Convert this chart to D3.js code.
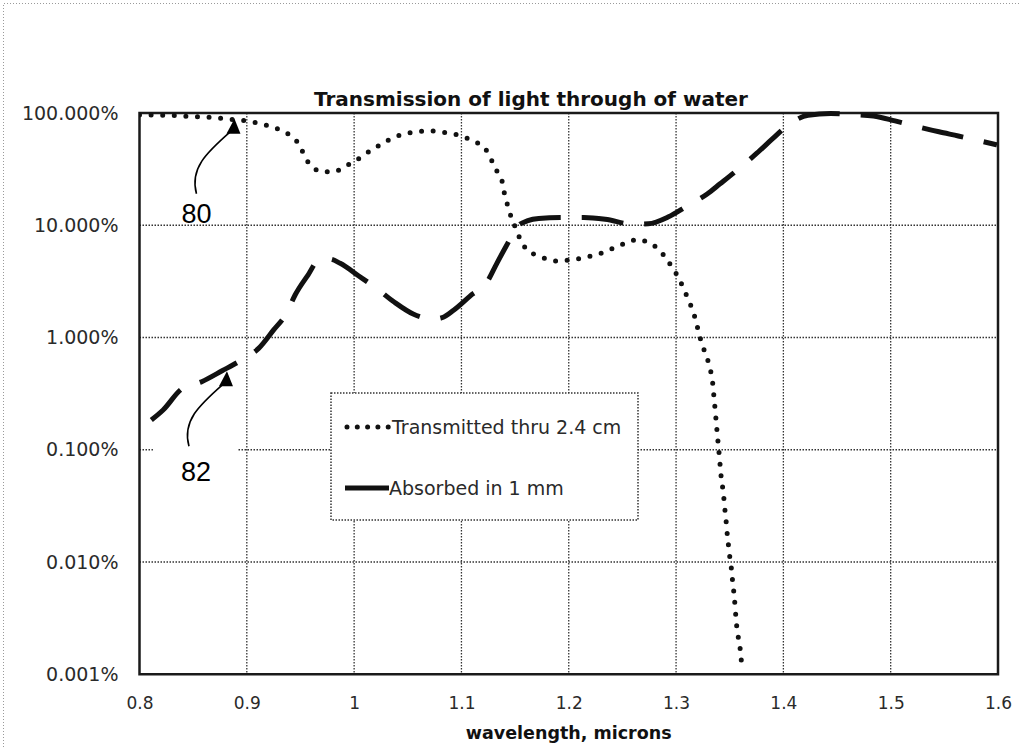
<!DOCTYPE html>
<html>
<head>
<meta charset="utf-8">
<script src="https://cdn.jsdelivr.net/npm/d3@7"></script>
<style>
  html, body { margin: 0; padding: 0; background: #fff; }
  svg { display: block; }
  .tick-label { font-family: "DejaVu Sans", sans-serif; font-size: 17px; fill: #2a2a2a; }
  .y-tick .tick-label { font-size: 19px; }
  .legend-label { font-family: "DejaVu Sans", sans-serif; font-size: 19px; fill: #2a2a2a; }
  .title { font-family: "DejaVu Sans", sans-serif; font-weight: bold; font-size: 20px; fill: #111; }
  .axis-title { font-family: "DejaVu Sans", sans-serif; font-weight: bold; font-size: 17.5px; fill: #111; }
  .ref-label { font-family: "Liberation Sans", Arial, sans-serif; font-size: 27px; fill: #000; }
</style>
</head>
<body>
<svg id="chart"></svg>
<script>
// transmitted thru 2.4 cm (wavelength in microns, percent)
var transWl = [0.800, 0.810, 0.820, 0.830, 0.840, 0.850, 0.860, 0.870, 0.880, 0.890,
  0.900, 0.911, 0.923, 0.933, 0.942, 0.950, 0.954, 0.961, 0.970, 0.981,
  0.991, 1.001, 1.010, 1.020, 1.029, 1.039, 1.049, 1.060, 1.071, 1.082,
  1.093, 1.103, 1.114, 1.123, 1.128, 1.133, 1.138, 1.140, 1.143, 1.146,
  1.150, 1.154, 1.160, 1.170, 1.180, 1.190, 1.201, 1.212, 1.223, 1.234,
  1.244, 1.254, 1.265, 1.275, 1.284, 1.291, 1.298, 1.303, 1.308, 1.312,
  1.316, 1.319, 1.322, 1.325, 1.329, 1.332, 1.334, 1.335, 1.336, 1.337,
  1.338, 1.339, 1.340, 1.341, 1.342, 1.3435, 1.3447, 1.3457, 1.3469, 1.3478,
  1.3491, 1.3503, 1.3519, 1.3528, 1.3541, 1.3550, 1.3559, 1.3571, 1.3590, 1.3603,
  1.3612]
var transPct = [96, 96, 95.5, 95, 94, 93, 92, 91, 89, 87,
  85, 81, 75.5, 69.5, 61.5, 50, 40.8, 33.3, 30, 30,
  33.3, 37.3, 42.9, 49.1, 55.5, 61.5, 65.9, 68.2, 69.2, 67.3,
  65, 60.7, 54.8, 46.8, 38.1, 30.4, 24.4, 19.3, 15.1, 12.1,
  9.7, 7.8, 6.2, 5.4, 5.0, 4.8, 4.9, 5.1, 5.4, 5.8,
  6.4, 7.0, 7.5, 6.9, 6.1, 5.0, 4.0, 3.3, 2.6, 2.1,
  1.7, 1.34, 1.03, 0.828, 0.653, 0.513, 0.404, 0.318, 0.251, 0.197,
  0.153, 0.12, 0.095, 0.074, 0.0575, 0.0454, 0.0357, 0.0281, 0.0218, 0.0172,
  0.0134, 0.0106, 0.0082, 0.0065, 0.0051, 0.0040, 0.0031, 0.0024, 0.0019, 0.0015,
  0.0012]

// absorbed in 1 mm
var absorbWl = [0.811, 0.822, 0.839, 0.858, 0.877, 0.895, 0.911, 0.925, 0.937, 0.945,
  0.957, 0.967, 0.977, 0.987, 1.004, 1.021, 1.037, 1.055, 1.074, 1.082,
  1.093, 1.108, 1.124, 1.133, 1.142, 1.152, 1.162, 1.172, 1.192, 1.214,
  1.234, 1.260, 1.274, 1.293, 1.310, 1.329, 1.341, 1.358, 1.375, 1.390,
  1.403, 1.423, 1.444, 1.464, 1.484, 1.504, 1.524, 1.545, 1.563, 1.581,
  1.599]
var absorbPct = [0.184, 0.226, 0.346, 0.404, 0.505, 0.63, 0.80, 1.17, 1.64, 2.39,
  3.6, 4.9, 5.0, 4.58, 3.55, 2.74, 2.08, 1.62, 1.46, 1.5,
  1.76, 2.34, 3.14, 4.58, 6.6, 9.7, 11.0, 11.5, 11.7, 11.7,
  11.3, 10.2, 10.3, 11.9, 14.8, 19, 23.4, 31.6, 43.6, 59,
  76, 95.5, 99, 97, 94, 85, 76, 68, 62.4, 57,
  52]

var xTicks = [0.8, 0.9, 1.0, 1.1, 1.2, 1.3, 1.4, 1.5, 1.6]
var xTickLabels = ['0.8', '0.9', '1', '1.1', '1.2', '1.3', '1.4', '1.5', '1.6']
var yTicks = [100, 10, 1, 0.1, 0.01, 0.001]
var yTickLabels = ['100.000%', '10.000%', '1.000%', '0.100%', '0.010%', '0.001%']

var seriesNames = ['Transmitted thru 2.4 cm', 'Absorbed in 1 mm']

// reference numerals of the patent figure, pointing at a spot on each curve
var refLabels = ['80', '82']
var refWl = [0.8885, 0.8815]
var refPct = [89, 0.5]

drawChart()

function drawChart () {
  var W = 1019, H = 747
  var margin = {top: 113, right: 21, bottom: 72.75, left: 139.5}
  var width = W - margin.left - margin.right
  var height = H - margin.top - margin.bottom

  var svg = d3.select('#chart')
      .attr('width', W)
      .attr('height', H)

  svg.append('rect').attr('width', W).attr('height', H).attr('fill', '#fff')

  // faint dotted frame of the chart area
  svg.append('path')
      .attr('d', 'M3.5,' + H + 'V3.5H' + W)
      .attr('fill', 'none')
      .attr('stroke', '#9a9a9a')
      .attr('stroke-width', 1)
      .attr('stroke-dasharray', '1,2')

  var x = d3.scaleLinear()
      .domain([0.8, 1.6])
      .range([margin.left, margin.left + width])

  var y = d3.scaleLog()
      .domain([0.001, 100])
      .range([margin.top + height, margin.top])

  // gridlines
  var grid = svg.append('g')
      .attr('stroke', '#333')
      .attr('stroke-width', 1.3)
      .attr('stroke-dasharray', '1.5,1.5')

  grid.selectAll('.vgrid')
      .data(xTicks.slice(1, -1))
    .enter().append('line')
      .attr('x1', d => x(d)).attr('x2', d => x(d))
      .attr('y1', margin.top).attr('y2', margin.top + height)

  grid.selectAll('.hgrid')
      .data(yTicks.slice(1, -1))
    .enter().append('line')
      .attr('x1', margin.left).attr('x2', margin.left + width)
      .attr('y1', d => y(d)).attr('y2', d => y(d))

  // axis labels via d3 axes, lines hidden
  var xAxis = svg.append('g')
      .attr('transform', 'translate(0,' + (margin.top + height) + ')')
      .call(d3.axisBottom(x).tickValues(xTicks).tickSize(0).tickPadding(23)
        .tickFormat((d, i) => xTickLabels[i]))
  xAxis.select('.domain').remove()
  xAxis.selectAll('text').attr('class', 'tick-label')
  xAxis.attr('font-size', null).attr('font-family', null)

  var yAxis = svg.append('g')
      .attr('class', 'y-tick')
      .attr('transform', 'translate(' + margin.left + ',0)')
      .call(d3.axisLeft(y).tickValues(yTicks).tickSize(0).tickPadding(21)
        .tickFormat((d, i) => yTickLabels[i]))
  yAxis.select('.domain').remove()
  yAxis.selectAll('text').attr('class', 'tick-label')
  yAxis.attr('font-size', null).attr('font-family', null)

  // plot border
  svg.append('rect')
      .attr('x', margin.left).attr('y', margin.top)
      .attr('width', width).attr('height', height)
      .attr('fill', 'none')
      .attr('stroke', '#1a1a1a')
      .attr('stroke-width', 2.5)

  svg.append('clipPath').attr('id', 'plot-clip')
    .append('rect')
      .attr('x', margin.left).attr('y', margin.top - 3)
      .attr('width', width).attr('height', height + 3)

  var line = d3.line()
      .x(d => x(d[0]))
      .y(d => y(d[1]))
      .curve(d3.curveMonotoneX)

  var trans = transWl.map((w, i) => [w, transPct[i]])
  var absorb = absorbWl.map((w, i) => [w, absorbPct[i]])

  var plot = svg.append('g').attr('clip-path', 'url(#plot-clip)')

  plot.append('path')
      .datum(trans)
      .attr('d', line)
      .attr('fill', 'none')
      .attr('stroke', '#111')
      .attr('stroke-width', 5)
      .attr('stroke-linecap', 'round')
      .attr('stroke-dasharray', '0,11.6')

  plot.append('path')
      .datum(absorb)
      .attr('d', line)
      .attr('fill', 'none')
      .attr('stroke', '#111')
      .attr('stroke-width', 5)
      .attr('stroke-dasharray', '42,21')

  // title and x axis title
  svg.append('text')
      .attr('class', 'title')
      .attr('x', 531).attr('y', 106)
      .attr('text-anchor', 'middle')
      .text('Transmission of light through of water')

  svg.append('text')
      .attr('class', 'axis-title')
      .attr('x', margin.left + width / 2).attr('y', 739)
      .attr('text-anchor', 'middle')
      .text('wavelength, microns')

  // legend
  var lg = svg.append('g').attr('transform', 'translate(331,393)')
  lg.append('rect')
      .attr('width', 307).attr('height', 127)
      .attr('fill', '#fff')
      .attr('stroke', '#333')
      .attr('stroke-width', 1.5)
      .attr('stroke-dasharray', '1.5,1.5')

  lg.append('line')
      .attr('x1', 16).attr('x2', 58).attr('y1', 34).attr('y2', 34)
      .attr('stroke', '#111').attr('stroke-width', 5)
      .attr('stroke-linecap', 'round').attr('stroke-dasharray', '0,10.3')
  lg.append('line')
      .attr('x1', 14).attr('x2', 58).attr('y1', 95).attr('y2', 95)
      .attr('stroke', '#111').attr('stroke-width', 5)

  lg.selectAll('.legend-label')
      .data(seriesNames)
    .enter().append('text')
      .attr('class', 'legend-label')
      .attr('x', (d, i) => i === 0 ? 61 : 58)
      .attr('y', (d, i) => i === 0 ? 34 : 95)
      .attr('dy', '0.36em')
      .text(d => d)

  // reference numerals with curved arrows
  refLabels.forEach(function (label, i) {
    var tx = x(refWl[i]), ty = y(refPct[i])
    var g = svg.append('g').attr('transform', 'translate(' + tx + ',' + ty + ')')
    if (label === '82') {
      // white box behind the numeral hides the gridline there
      g.append('rect')
          .attr('x', -74).attr('y', 73).attr('width', 85).attr('height', 44)
          .attr('fill', '#fff')
    }
    g.append('path')
        .attr('d', 'M-38,75C-45,50 -28,34 -4,13')
        .attr('fill', 'none')
        .attr('stroke', '#000')
        .attr('stroke-width', 1.6)
    g.append('path')
        .attr('d', 'M0,0L-8,15L6,15Z')
        .attr('fill', '#000')
    g.append('text')
        .attr('class', 'ref-label')
        .attr('x', i === 0 ? -53 : -46)
        .attr('y', i === 0 ? 104 : 110)
        .text(label)
  })
}
</script>
</body>
</html>
